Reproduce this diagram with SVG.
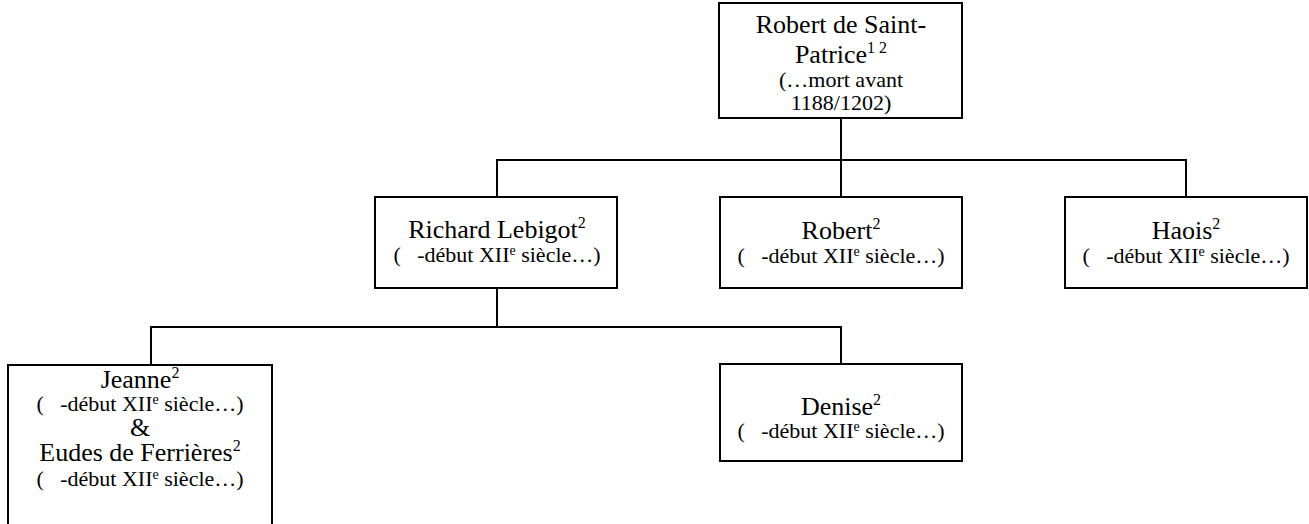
<svg xmlns="http://www.w3.org/2000/svg" width="1309" height="524" viewBox="0 0 1309 524">
<style>
.box{fill:#fff;stroke:#000;stroke-width:2}
.con{fill:none;stroke:#000;stroke-width:2}
text{font-family:"Liberation Serif","Times New Roman",serif;fill:#000;text-anchor:middle}
.n{font-size:26px}
.d{font-size:22px}
.s{font-size:16px}
.se{font-size:14px}
</style>
<rect width="1309" height="524" fill="#fff"/>
<g id="connectors">
<path class="con" d="M841 118 V197"/>
<path class="con" d="M497 197 V160 H1186 V197"/>
<path class="con" d="M497 288 V327"/>
<path class="con" d="M151 365 V327 H841 V364"/>
</g>
<g id="robert-saint-patrice">
<rect class="box" x="719" y="3" width="243" height="115"/>
<text class="n" x="841" y="33">Robert de Saint-</text>
<text class="n" x="841" y="63" xml:space="preserve">Patrice<tspan class="s" dy="-10">1 2</tspan></text>
<text class="d" x="841" y="87">(…mort avant</text>
<text class="d" x="841" y="110">1188/1202)</text>
</g>
<g id="richard-lebigot">
<rect class="box" x="375" y="197" width="242" height="91"/>
<text class="n" x="497" y="238">Richard Lebigot<tspan class="s" dy="-10">2</tspan></text>
<text class="d" x="497" y="262" xml:space="preserve">(   -début XII<tspan class="se" dy="-7">e</tspan><tspan dy="7"> siècle…)</tspan></text>
</g>
<g id="robert">
<rect class="box" x="720" y="197" width="242" height="91"/>
<text class="n" x="841" y="239">Robert<tspan class="s" dy="-10">2</tspan></text>
<text class="d" x="841" y="263" xml:space="preserve">(   -début XII<tspan class="se" dy="-7">e</tspan><tspan dy="7"> siècle…)</tspan></text>
</g>
<g id="haois">
<rect class="box" x="1065" y="197" width="242" height="91"/>
<text class="n" x="1186" y="239">Haois<tspan class="s" dy="-10">2</tspan></text>
<text class="d" x="1186" y="263" xml:space="preserve">(   -début XII<tspan class="se" dy="-7">e</tspan><tspan dy="7"> siècle…)</tspan></text>
</g>
<g id="jeanne-eudes">
<rect class="box" x="8" y="365" width="264" height="170"/>
<text class="n" x="140" y="388">Jeanne<tspan class="s" dy="-10">2</tspan></text>
<text class="d" x="140" y="411" xml:space="preserve">(   -début XII<tspan class="se" dy="-7">e</tspan><tspan dy="7"> siècle…)</tspan></text>
<text class="n" x="140" y="436">&amp;</text>
<text class="n" x="140" y="461">Eudes de Ferrières<tspan class="s" dy="-10">2</tspan></text>
<text class="d" x="140" y="486" xml:space="preserve">(   -début XII<tspan class="se" dy="-7">e</tspan><tspan dy="7"> siècle…)</tspan></text>
</g>
<g id="denise">
<rect class="box" x="720" y="364" width="242" height="97"/>
<text class="n" x="841" y="415">Denise<tspan class="s" dy="-10">2</tspan></text>
<text class="d" x="841" y="438" xml:space="preserve">(   -début XII<tspan class="se" dy="-7">e</tspan><tspan dy="7"> siècle…)</tspan></text>
</g>
</svg>
